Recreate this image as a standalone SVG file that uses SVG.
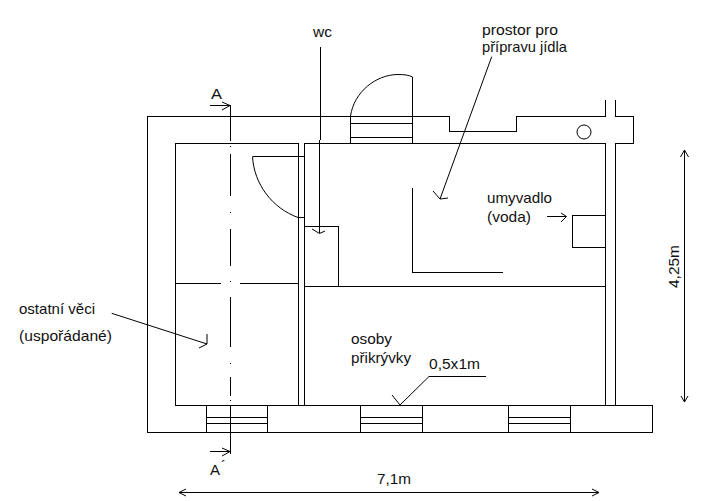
<svg xmlns="http://www.w3.org/2000/svg" width="708" height="501" viewBox="0 0 708 501">
<style>
.l{fill:none;stroke:#000;stroke-width:1;shape-rendering:crispEdges}
.a{fill:none;stroke:#000;stroke-width:1}
text{font-family:"Liberation Sans",Arial,sans-serif;font-size:15px;fill:#111}
</style>
<rect width="708" height="501" fill="#fff"/>
<g id="walls">
<path class="l" d="M350.5 116.5H147.5V432.5H652.5V405.5H175.5V143.5H298.5V405.5M304.5 405.5V143.5H605.5V405.5M615.5 405.5V143.5H633.5V116.5H615.5V100M605.5 100V116.5H516.5V131.5H449.5V116.5H350.5"/>
<path class="l" d="M175.500 283.500H221M240 283.500H298.500M304.500 286.500H605.500M304.500 226.500H338.500V286.500"/>
<path class="l" d="M412.500 188V272.500H503"/>
<circle class="a" cx="584" cy="132" r="7"/>
<rect class="l" x="572.500" y="215.500" width="33" height="32"/>
</g>
<g id="doors">
<path class="l" d="M350.500 116.500V143.500M412.500 77V143.500M350.500 123.500H412.500M350.500 137.500H412.500"/>
<path class="a" d="M350.500 116C354 92 376 74.500 398 74.500C404 74.500 409 75 412.500 77"/>
<path class="l" d="M252.500 156.500H304.500M298 217.500H304.500"/>
<path class="a" d="M252.500 156.500C254 184 272 208 298 217.500"/>
</g>
<g id="windows">
<path class="l" d="M206.500 405.500V432.500M267.500 405.500V432.500M206.500 417.500H267.500M206.500 423.500H267.500"/>
<path class="l" d="M360.500 405.500V432.500M422.500 405.500V432.500M360.500 417.500H422.500M360.500 423.500H422.500"/>
<path class="l" d="M508.500 405.500V432.500M570.500 405.500V432.500M508.500 417.500H570.500M508.500 423.500H570.500"/>
</g>
<g id="connectors">
<path class="l" d="M230.500 105V141M230.500 146V147M230.500 154V196M230.500 212V213M230.500 229V266M230.500 281V282M230.500 297V347M230.500 363V364M230.500 377V396M230.500 400V401M230.500 406V454"/>
<path class="l" d="M210 105.500H230M210 451.500H230"/>
<path class="a" d="M222 102L230 105.500L222 110M222 448L230 451.500L222 456"/>
<path class="l" d="M320.500 47V140M319.500 140V233"/>
<path class="a" d="M312 229L319.500 233.500L325 231"/>
<path class="a" d="M491.700 56.700L440 199M433 191L440 199L448 198"/>
<path class="a" d="M547 216.500H566M561 213L566.500 216.500L561 222"/>
<path class="a" d="M111.700 313.300L207 344M207 334V344L199 348"/>
<path class="a" d="M400 405L429 376.500H486M392 395L400 405"/>
<path class="l" d="M684.500 150V402M179 492.500H599"/>
<path class="a" d="M680.500 157L684.500 150L688.500 157M681 396L684.500 402L688 396M186 489L179 492.500L186 496M592 489L599 492.500L592 496"/>
</g>
<g id="labels">
<text x="211" y="99" textLength="11" lengthAdjust="spacingAndGlyphs">A</text>
<text x="210" y="475">A<tspan dx="1" dy="-4">´</tspan></text>
<text x="313" y="37" textLength="19" lengthAdjust="spacingAndGlyphs">wc</text>
<text x="482" y="35" textLength="76" lengthAdjust="spacingAndGlyphs">prostor pro</text>
<text x="482" y="52" textLength="85" lengthAdjust="spacingAndGlyphs">přípravu jídla</text>
<text x="487" y="203" textLength="65" lengthAdjust="spacingAndGlyphs">umyvadlo</text>
<text x="487" y="222" textLength="44" lengthAdjust="spacingAndGlyphs">(voda)</text>
<text x="19" y="314" textLength="76" lengthAdjust="spacingAndGlyphs">ostatní věci</text>
<text x="19" y="341" textLength="93" lengthAdjust="spacingAndGlyphs">(uspořádané)</text>
<text x="351" y="344" textLength="41" lengthAdjust="spacingAndGlyphs">osoby</text>
<text x="351" y="363" textLength="60" lengthAdjust="spacingAndGlyphs">přikrývky</text>
<text x="429" y="369" textLength="51" lengthAdjust="spacingAndGlyphs">0,5x1m</text>
<text x="377" y="484" textLength="34" lengthAdjust="spacingAndGlyphs">7,1m</text>
<text transform="translate(679 288) rotate(-90)" textLength="43" lengthAdjust="spacingAndGlyphs">4,25m</text>
</g>
</svg>
